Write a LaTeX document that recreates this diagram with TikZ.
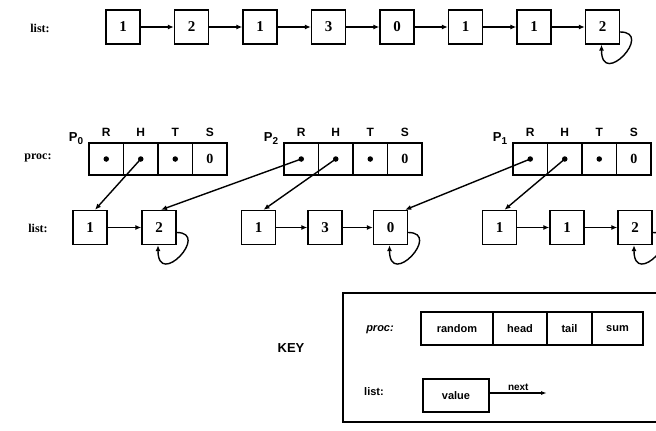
\documentclass[tikz,border=0pt]{standalone}
\usepackage{fontspec}
\setmainfont{Liberation Serif}
\newfontfamily\sansf{Liberation Sans}
\usetikzlibrary{arrows.meta}
\newcommand{\procrow}[3]{%
  \node[pcell] (#1r) at ({#2+17.25},159) {};
  \node[pcell] (#1h) at ({#2+51.75},159) {};
  \node[pcell] (#1t) at ({#2+86.25},159) {};
  \node[pcell] (#1s) at ({#2+120.75},159) {0};
  \node[pdot] (#1rd) at (#1r) {};
  \node[pdot] (#1hd) at (#1h) {};
  \node[pdot] (#1td) at (#1t) {};
  \node[hdr] (#1rl) at ({#2+17.25},132) {R};
  \node[hdr] (#1hl) at ({#2+51.75},132) {H};
  \node[hdr] (#1tl) at ({#2+86.25},132) {T};
  \node[hdr] (#1sl) at ({#2+120.75},132) {S};
  \node[plab] (#1p) at ({#2-13},139) {P\raisebox{-3pt}{\fontsize{10}{10}\selectfont #3}};
}
\begin{document}
\begin{tikzpicture}[x=1pt,y=-1pt,
  cell/.style={draw,line width=1.4pt,inner sep=0pt,minimum width=34pt,minimum height=34pt,font=\bfseries\fontsize{15}{15}\selectfont},
  pcell/.style={draw,line width=1.4pt,inner sep=0pt,minimum width=34.5pt,minimum height=32pt,font=\bfseries\fontsize{14}{14}\selectfont},
  kcell/.style={draw,line width=1.1pt,inner sep=0pt,minimum height=33pt,font=\sansf\bfseries\fontsize{11}{11}\selectfont},
  lbl/.style={font=\bfseries\fontsize{12}{12}\selectfont},
  hdr/.style={font=\sansf\bfseries\fontsize{12}{12}\selectfont},
  plab/.style={font=\sansf\bfseries\fontsize{13}{13}\selectfont},
  link/.style={line width=1.4pt,-{Latex[length=6pt,width=5pt]}},
  pdot/.style={circle,fill,inner sep=0pt,minimum size=5.5pt}]
\useasboundingbox (0,0) rectangle (656,431);
% top list
\node[lbl] (toplbl) at (40,28) {list:};
\foreach \v [count=\i] in {1,2,1,3,0,1,1,2}
  \node[cell] (t\i) at ({123+68.5*(\i-1)},27) {\v};
\foreach \i [evaluate=\i as \j using int(\i+1)] in {1,...,7}
  \draw[link] (t\i.east) -- (t\j.west);
\draw[link] ([yshift=-5pt]t8.east) .. controls +(34,0) and +(0,44) .. ([xshift=-1pt]t8.south);
% proc rows
\node[lbl] (proclbl) at (38,158) {proc:};
\procrow{a}{89}{0}
\procrow{b}{284}{2}
\procrow{c}{513}{1}
% bottom lists
\node[lbl] (botlbl) at (38,228) {list:};
\node[cell] (b1) at (90,227.5) {1};
\node[cell] (b2) at (159,227.5) {2};
\node[cell] (b3) at (258.5,227.5) {1};
\node[cell] (b4) at (325,227.5) {3};
\node[cell] (b5) at (390.5,227.5) {0};
\node[cell] (b6) at (499.5,227.5) {1};
\node[cell] (b7) at (567,227.5) {1};
\node[cell] (b8) at (635,227.5) {2};
\draw[link] (b1.east) -- (b2.west);
\draw[link] (b3.east) -- (b4.west);
\draw[link] (b4.east) -- (b5.west);
\draw[link] (b6.east) -- (b7.west);
\draw[link] (b7.east) -- (b8.west);
\foreach \n in {b2,b5,b8}
  \draw[link] ([yshift=-5pt]\n.east) .. controls +(34,0) and +(0,44) .. ([xshift=-1pt]\n.south);
% pointers
\draw[link] (ahd.center) -- ([xshift=5pt]b1.north);
\draw[link] (brd.center) -- ([xshift=2pt]b2.north);
\draw[link] (bhd.center) -- ([xshift=5pt]b3.north);
\draw[link] (crd.center) -- ([xshift=-3pt]b5.north east);
\draw[link] (chd.center) -- ([xshift=5pt]b6.north);
% key
\node[font=\sansf\bfseries\fontsize{13}{13}\selectfont] (key) at (291,348) {KEY};
\draw[line width=1.1pt] (343,293) rectangle (664,422);
\node[font=\sansf\bfseries\itshape\fontsize{11}{11}\selectfont] (kproc) at (380,330) {proc:};
\node[kcell,minimum width=72pt] (kr) at (457,328.5) {random};
\node[kcell,minimum width=54pt] (kh) at (520,328.5) {head};
\node[kcell,minimum width=45pt] (kt) at (569.5,328.5) {tail};
\node[kcell,minimum width=51pt] (ks) at (617.5,328.5) {sum};
\node[font=\sansf\bfseries\fontsize{11}{11}\selectfont] (klist) at (374,392) {list:};
\node[kcell,minimum width=66pt] (kv) at (456,395.5) {value};
\coordinate (knext) at (547,393);
\draw[line width=1.3pt,-{Latex[length=6pt,width=4pt]}] (kv.east |- knext) -- node[above,font=\sansf\bfseries\fontsize{10}{10}\selectfont,inner sep=2pt] (nextlbl) {next} (knext);
\end{tikzpicture}
\end{document}
